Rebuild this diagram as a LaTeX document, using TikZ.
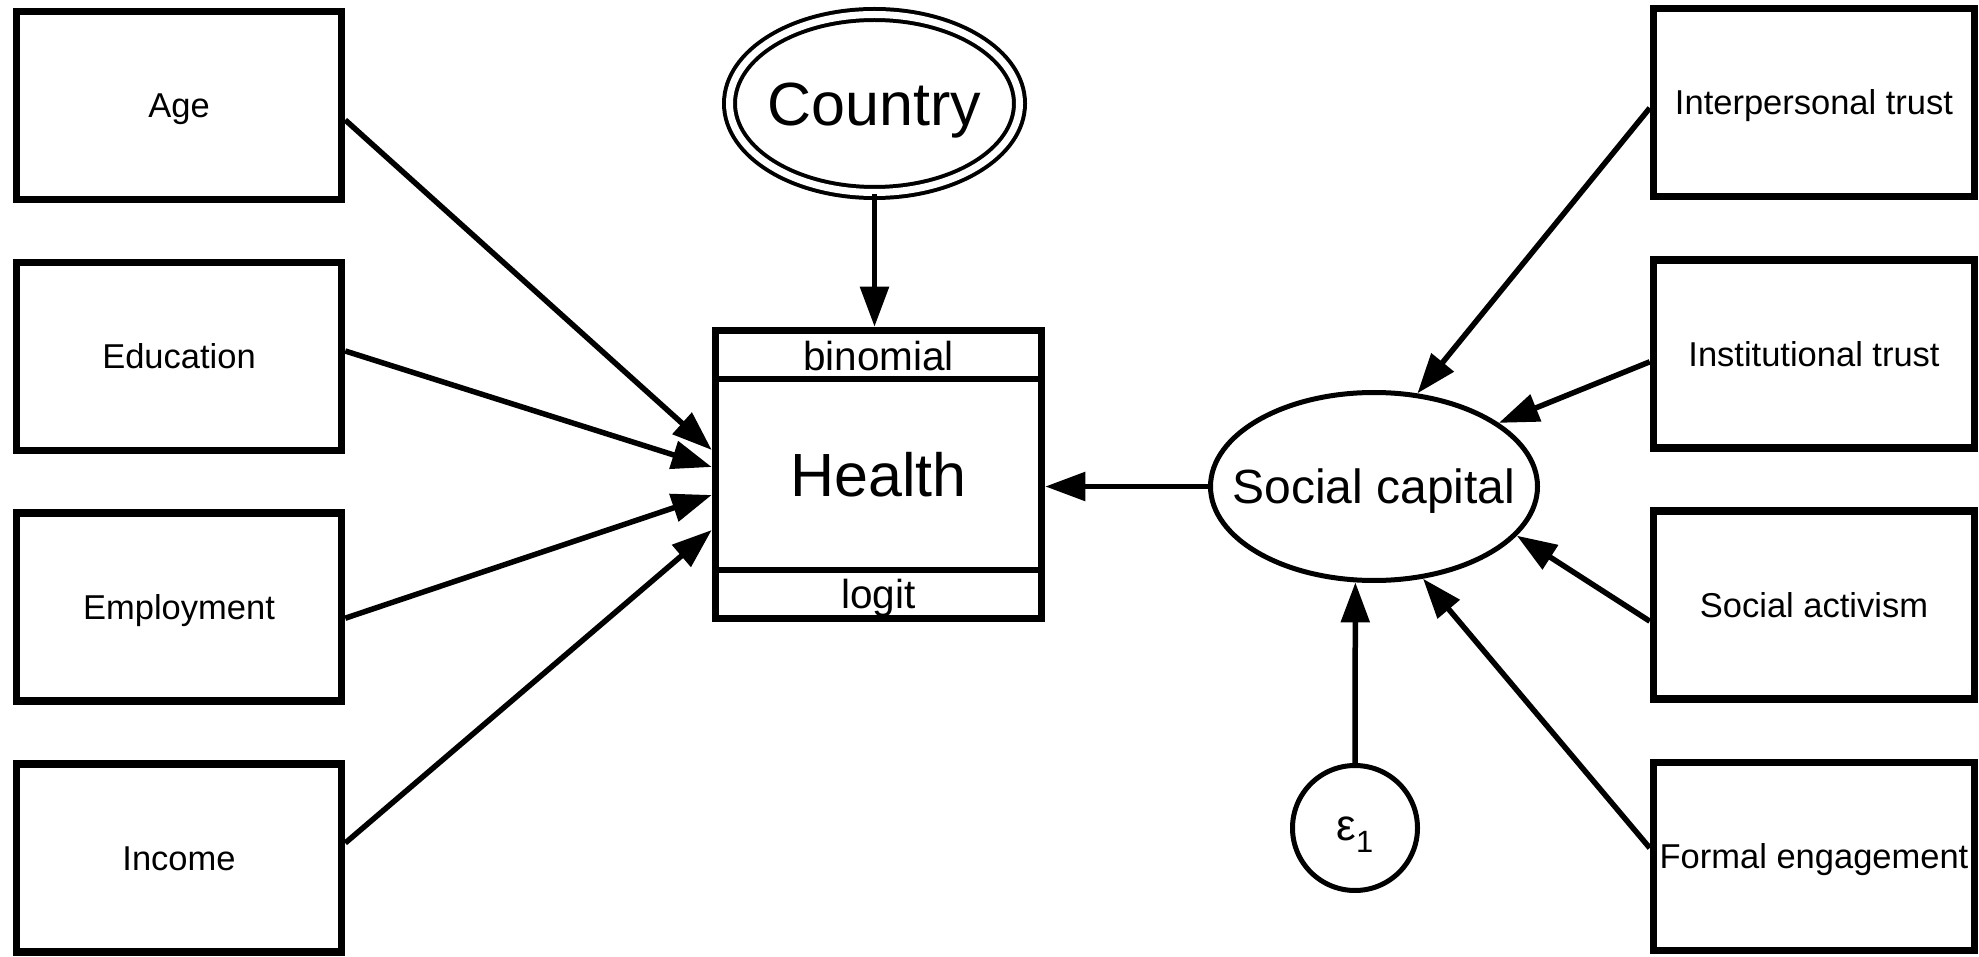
\documentclass[tikz,border=0pt]{standalone}
\usepackage{fontspec}
\setmainfont{Liberation Sans}
\usetikzlibrary{arrows.meta,shapes.geometric}

\newcommand{\fsz}[1]{\fontsize{#1}{#1}\selectfont}

\begin{document}
\begin{tikzpicture}[x=1pt,y=-1pt,
  varbox/.style={draw,line width=7.5pt,minimum width=325pt,minimum height=188pt,
    inner sep=0pt,font=\fsz{34.5},text height=24.8pt,text depth=0pt},
  rbox/.style={varbox,minimum width=321pt},
  latent/.style={ellipse,draw,line width=5pt,inner sep=0pt,text depth=0pt},
  band/.style={minimum width=326pt,minimum height=48pt,inner sep=0pt,outer sep=0pt,
    font=\fsz{40.5},text height=29.2pt,text depth=0pt},
  sempath/.style={line width=5.5pt,-{Triangle[length=40pt,width=28pt]}}]
\useasboundingbox (0,0) rectangle (1979,957);
%draw observed variables:
\node[varbox] (age) at (179,105.5) {Age};
\node[varbox] (edu) at (179,356.3) {Education};
\node[varbox] (emp) at (179,607.2) {Employment};
\node[varbox] (inc) at (179,858) {Income};
\node[rbox] (itrust) at (1814,102.5) {Interpersonal trust};
\node[rbox] (inst) at (1814,353.8) {Institutional trust};
\node[rbox] (activ) at (1814,605.2) {Social activism};
\node[rbox] (formal) at (1814,856.5) {Formal engagement};
%draw outcome with family and link:
\node[draw,line width=7.5pt,minimum width=326pt,minimum height=288pt,inner sep=0pt,
  font=\fsz{61},text height=43.9pt,text depth=0pt] (health) at (878.5,474.5) {Health};
\node[band] (binom) at (878.5,355.5) {binomial};
\node[band] (logit) at (878.5,594.25) {logit};
\draw[line width=6pt] (binom.south west) -- (binom.south east);
\draw[line width=6pt] (logit.north west) -- (logit.north east);
%draw latent variables:
\node[latent,line width=4pt,double,double distance=7pt,minimum width=290pt,
  minimum height=178pt,font=\fsz{61},text height=43.9pt]
  (country) at (874.5,103.5) {\makebox[0pt]{Country}};
\node[latent,minimum width=327pt,minimum height=188pt,font=\fsz{48},text height=34.6pt]
  (social) at (1374,486.5) {\makebox[0pt]{Social capital}};
\node[circle,draw,line width=5pt,minimum size=125pt,inner sep=0pt,font=\fsz{44},
  text height=24pt,text depth=0pt] (eps) at (1355,828) {ε\textsubscript{1}};
%draw paths:
\draw[sempath] (country.south) -- (country.south |- health.north);
\draw[sempath] ([yshift=-14.5pt]age.east) -- ([yshift=24.5pt]health.west);
\draw[sempath] ([yshift=5.3pt]edu.east) -- ([yshift=7.5pt]health.west);
\draw[sempath] ([yshift=-11pt]emp.east) -- ([yshift=-20.5pt]health.west);
\draw[sempath] ([yshift=15pt]inc.east) -- ([yshift=-55.5pt]health.west);
\draw[sempath] (social.west) -- ([yshift=-12pt]health.east);
\draw[sempath] ([yshift=-5.5pt]itrust.west) -- (social.65.5);
\draw[sempath] ([yshift=-8pt]inst.west) -- (social.27.5);
\draw[sempath] ([yshift=-16pt]activ.west) -- (social.-19.8);
\draw[sempath] ([yshift=8.5pt]formal.west) -- (social.-62);
\draw[sempath] (eps.north) -- (social.-101.2);
\end{tikzpicture}
\end{document}
